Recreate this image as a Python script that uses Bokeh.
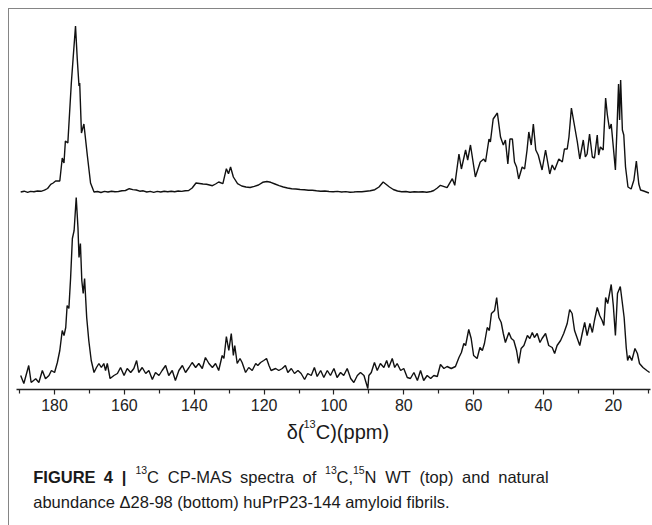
from bokeh.plotting import figure
from bokeh.models import Range1d, FixedTicker, Label
from bokeh.layouts import column
from bokeh.embed import file_html
from bokeh.resources import INLINE

# ---------------- data ----------------
# chemical shift axis ticks (ppm)
TICKS = [180, 160, 140, 120, 100, 80, 60, 40, 20]
MINOR_TICKS = [190, 170, 150, 130, 110, 90, 70, 50, 30, 10]

# top spectrum: 13C,15N WT  (ppm, intensity a.u.)
top_ppm = [189.7, 188.7, 187.7, 186.9, 185.9, 184.9, 183.9, 182.9, 182.0, 181.1,
           180.4, 179.7, 178.5, 177.8, 177.3, 176.9, 176.2, 175.2, 174.7, 174.0,
           173.5, 173.0, 172.8, 172.3, 171.6, 170.6, 169.7, 168.7, 167.7, 166.7,
           165.7, 164.7, 163.7, 162.7, 161.7, 160.7, 159.7, 158.6, 157.6, 156.6,
           155.6, 154.6, 153.6, 152.6, 151.6, 150.6, 149.6, 148.6, 147.6, 146.6,
           145.6, 144.6, 143.6, 142.6, 141.6, 140.6, 139.5, 138.5, 137.5, 136.5,
           135.9, 134.8, 133.9, 133.0, 131.8, 130.8, 130.2, 129.6, 128.8, 127.6,
           126.4, 125.2, 124.0, 122.8, 121.6, 120.4, 119.2, 118.1, 116.9, 115.7,
           114.5, 113.3, 112.1, 110.9, 109.7, 108.5, 107.3, 106.2, 105.0, 103.8,
           102.6, 101.4, 100.2, 99.0, 97.8, 96.6, 95.4, 94.3, 93.2, 92.0,
           90.8, 89.6, 88.3, 87.1, 85.9, 84.1, 83.0, 81.8, 80.6, 79.4,
           78.2, 77.0, 75.8, 74.6, 73.4, 72.2, 71.4, 70.4, 69.5, 67.6,
           66.1, 65.4, 64.2, 63.5, 62.3, 61.7, 60.9, 59.5, 58.1, 57.1,
           56.6, 55.6, 55.2, 54.4, 53.2, 52.3, 51.5, 50.9, 50.2, 49.6,
           48.9, 48.3, 47.7, 47.1, 46.1, 45.4, 44.7, 44.2, 43.5, 42.9,
           42.2, 41.5, 40.4, 39.4, 38.2, 37.5, 36.8, 35.6, 34.6, 34.0,
           33.2, 32.7, 32.0, 31.3, 30.3, 29.6, 28.6, 28.0, 27.5, 26.8,
           26.0, 25.4, 24.6, 24.2, 23.7, 22.9, 22.2, 21.7, 21.1, 20.6,
           20.0, 19.4, 18.9, 18.5, 18.2, 17.9, 17.4, 17.0, 16.5, 15.8,
           14.9, 14.1, 13.4, 12.7, 12.2, 11.3, 9.8]
top_int = [0, 0.8, -0.3, 0.6, 0.2, 1.0, 0.7, 1.8, 3.5, 7.7,
           9, 11, 11, 34, 29, 51, 49, 109, 133, 166,
           133, 106, 109, 59, 68, 36, 9, 0, 0.5, -0.5,
           0.6, 0, 0.8, 0.2, 0.5, 1.2, 1.5, 3.3, 2.4, 2.0,
           0.8, 1.2, 0, 0.6, -0.4, 0.6, 0, 0.8, 0.3, 0.8,
           0.2, 1.0, 0.6, 1.2, 1.5, 4, 9, 8.5, 8, 7.8,
           7.3, 6.3, 8, 10, 8.3, 23.3, 18.3, 25, 15, 8.3,
           6, 5, 4.5, 5.7, 7, 9.7, 10.5, 9.7, 8, 6.3,
           5, 4, 3.3, 3, 2.5, 2.2, 1.8, 1.7, 1.2, 0.8,
           1.0, 0.5, 0.2, 0.6, 0, 0.4, -0.2, 0, 0.4, 0.3,
           0.8, 1.2, 2.3, 5, 10, 5, 2.5, 1, 0.3, 0.5,
           -0.3, 0.2, 0, 0.3, -0.2, 0.5, 1.5, 4, 6.7, 4.3,
           13.3, 6.7, 38, 23, 42, 32, 47, 15, 30, 33,
           30, 53, 50, 73, 79, 55, 47, 52, 28, 53,
           53, 30, 25, 13, 25, 23, 42, 60, 47, 68,
           42, 37, 22, 42, 18, 27, 22, 33, 30, 43,
           43, 55, 84, 70, 50, 33, 52, 35, 38, 58,
           35, 34, 57, 37, 45, 42, 94, 77, 63, 68,
           45, 22, 68, 108, 72, 112, 62, 57, 25, 5,
           3, 12, 31, 8, 2, 1, -1]

# bottom spectrum: natural abundance delta28-98  (ppm, intensity a.u.)
bot_ppm = [189.7, 188.8, 187.4, 186.7, 185.4, 184.5, 183.5, 182.6, 181.6, 180.9,
           180.0, 179.2, 178.5, 177.8, 177.3, 176.8, 176.4, 175.9, 175.4, 174.9,
           174.4, 173.8, 173.3, 173.0, 172.6, 172.2, 171.8, 171.4, 170.8, 170.2,
           169.5, 168.7, 168.0, 167.3, 166.6, 165.9, 165.4, 164.9, 164.1, 163.0,
           162.0, 161.1, 160.1, 159.2, 158.2, 157.3, 156.5, 155.9, 154.9, 153.9,
           153.0, 152.0, 151.1, 150.1, 149.2, 148.2, 147.3, 146.3, 145.4, 144.4,
           143.4, 142.5, 141.5, 140.6, 139.6, 138.7, 137.7, 136.8, 135.8, 134.8,
           133.9, 133.0, 132.0, 131.5, 130.8, 130.1, 129.4, 128.8, 128.4, 127.7,
           126.9, 126.3, 125.3, 124.4, 123.4, 122.4, 121.8, 121.0, 120.1, 119.3,
           118.6, 118.0, 116.7, 115.8, 114.8, 113.9, 113.2, 112.2, 111.3, 110.3,
           109.4, 108.4, 107.5, 106.5, 105.6, 104.8, 103.8, 102.9, 101.9, 101.0,
           100.0, 99.1, 98.1, 97.2, 96.2, 95.2, 94.3, 93.3, 92.4, 91.4,
           90.3, 90.0, 89.3, 88.4, 87.6, 86.7, 85.7, 84.9, 84.3, 83.3,
           82.6, 81.9, 80.9, 80.0, 79.0, 78.1, 77.1, 76.1, 75.2, 74.3,
           73.3, 72.3, 71.4, 70.4, 69.5, 68.5, 67.6, 66.4, 65.2, 64.2,
           63.5, 62.8, 62.3, 61.4, 60.7, 60.0, 59.0, 58.2, 57.5, 56.9,
           56.1, 55.5, 54.9, 54.0, 53.4, 52.8, 52.1, 51.5, 50.9, 49.9,
           49.2, 48.5, 47.7, 47.1, 46.4, 45.6, 44.6, 43.9, 43.2, 42.6,
           41.8, 41.0, 40.4, 39.4, 38.5, 37.5, 36.8, 36.1, 35.1, 34.2,
           33.2, 32.5, 31.8, 31.1, 30.3, 29.6, 28.9, 28.2, 27.5, 26.7,
           26.0, 25.4, 24.6, 23.9, 23.2, 22.7, 22.2, 21.6, 20.6, 20.0,
           19.4, 18.8, 18.0, 17.5, 16.9, 16.3, 15.9, 15.4, 14.7, 13.8,
           13.1, 12.5, 11.5, 10.4, 9.6]
bot_int = [5, -3, 15, -2, 1.7, -2, 10, 1.7, 5, 10,
           8, 18, 30, 50, 45, 53, 75, 72, 103, 142,
           150, 183, 153, 123, 137, 100, 87, 102, 63, 40,
           20, 8, 13, 17, 13, 17, 10, 17, 2, 5,
           7, 13, 5, 12, 8, 12, 20, 8, 13, 7,
           10, 1, 8, 5, 10, 15, 5, 10, 0, 10,
           15, 8, 13, 18, 13, 17, 12, 23, 17, 13,
           17, 10, 25, 22, 44, 30, 47, 25, 35, 17,
           22, 18, 8, 13, 10, 17, 15, 18, 20, 22,
           15, 10, 12, 10, 12, 15, 8, 12, 7, 10,
           7, 1, 7, 5, 13, 4, 10, 3, 10, 5,
           12, 3, 8, 5, 12, 2, -2, 5, 8, 5,
           -8, 5, 8, 18, 10, 17, 13, 20, 13, 22,
           13, 17, 10, 12, 3, 2, 8, 0, 10, 0,
           5, 2, 5, 4, 16, 12, 14, 12, 14, 23,
           28, 37, 35, 51, 42, 25, 22, 33, 30, 37,
           53, 50, 67, 70, 83, 63, 58, 47, 38, 48,
           42, 40, 30, 17, 32, 35, 45, 42, 48, 43,
           47, 38, 42, 47, 35, 33, 27, 35, 40, 47,
           57, 71, 67, 50, 42, 35, 47, 58, 45, 57,
           48, 60, 73, 65, 60, 55, 83, 77, 96, 75,
           45, 87, 94, 80, 63, 33, 20, 25, 20, 32,
           27, 17, 13, 10, 8]

X_LABEL = ["\u03b4(", "13", "C)(ppm)"]
# caption line 1 is justified: (text, is_superscript, is_bold)
CAPTION_1 = [("FIGURE", False, True), ("4", False, True), ("|", False, True),
             ("13", True, False), ("C", False, False), ("CP-MAS", False, False),
             ("spectra", False, False), ("of", False, False),
             ("13", True, False), ("C,", False, False), ("15", True, False), ("N", False, False),
             ("WT", False, False), ("(top)", False, False), ("and", False, False),
             ("natural", False, False)]
CAPTION_2 = "abundance \u039428-98 (bottom) huPrP23-144 amyloid fibrils."

# ---------------- layout ----------------
TOP_OFFSET = 188.5      # vertical stacking offset of the upper trace
FONT = "Liberation Sans"
INK = "#1a1a1a"

p = figure(width=643, height=406,
           x_range=Range1d(190.9, 9.35), y_range=Range1d(-9, 365),
           output_backend="svg", toolbar_location=None, y_axis_location=None,
           min_border_left=7, min_border_right=2, min_border_top=6, min_border_bottom=26)
p.grid.visible = False
p.outline_line_color = None

ax = p.xaxis[0]
ax.ticker = FixedTicker(ticks=TICKS, minor_ticks=MINOR_TICKS)
ax.axis_line_color = "#222222"
ax.axis_line_width = 1.5
ax.major_tick_line_color = "#222222"
ax.minor_tick_line_color = "#222222"
ax.major_tick_line_width = 1.2
ax.minor_tick_line_width = 1.2
ax.major_tick_in = 0
ax.major_tick_out = 5
ax.minor_tick_in = 0
ax.minor_tick_out = 4
ax.major_label_standoff = 4
ax.major_label_text_font = FONT
ax.major_label_text_font_size = "16px"
ax.major_label_text_color = "#222222"

top_y = [v + TOP_OFFSET for v in top_int]
p.line(top_ppm, top_y, line_color="#111111", line_width=1.4)
p.line(bot_ppm, bot_int, line_color="#111111", line_width=1.4)

# text panel below the plot: its data coordinates are page pixels
t = figure(width=643, height=110, x_range=Range1d(9, 652), y_range=Range1d(525, 415),
           output_backend="svg", toolbar_location=None,
           x_axis_location=None, y_axis_location=None,
           min_border_left=0, min_border_right=0, min_border_top=0, min_border_bottom=0)
t.grid.visible = False
t.outline_line_color = None


def add_label(text, px, py, size, bold=False):
    t.add_layout(Label(x=px, y=py, text=text,
                       text_font=FONT, text_font_size=f"{size}px",
                       text_font_style="bold" if bold else "normal",
                       text_color=INK, text_align="left", text_baseline="alphabetic"))


# approximate advance widths (Arial/Liberation metrics, per 1000 em)
ADV = {"F": 611, "I": 278, "G": 778, "U": 722, "R": 722, "E": 667, "4": 556, "|": 280,
       "1": 556, "3": 556, "5": 556, "C": 722, "P": 667, "-": 333, "M": 833, "A": 667,
       "S": 667, "s": 500, "p": 556, "e": 556, "c": 500, "t": 278, "r": 333, "a": 556,
       "o": 556, "f": 278, ",": 278, "N": 722, "W": 944, "T": 611, "(": 333, ")": 333,
       "n": 556, "d": 556, "u": 556, "l": 222}


def width(s, size):
    return sum(ADV.get(ch, 556) for ch in s) * size / 1000.0


BASE_SIZE = 16.5
SUP_SIZE = 10.5
Y_SHIFT = -6            # Label baseline correction measured on render

# x-axis title  δ(13C)(ppm)
add_label(X_LABEL[0], 283, 437 + Y_SHIFT, 20)
add_label(X_LABEL[1], 300, 429 + Y_SHIFT, 11)
add_label(X_LABEL[2], 312.5, 437 + Y_SHIFT, 20)

# caption line 1 (justified between x=26 and x=548)
word_breaks = {0, 1, 2, 3, 5, 6, 7, 8, 12, 13, 14, 15}
x0, x1 = 26.0, 548.0
widths = [width(s, SUP_SIZE if sup else BASE_SIZE) for s, sup, _ in CAPTION_1]
gap = (x1 - x0 - sum(widths)) / (len(word_breaks) - 1)
x = x0
for i, (s, sup, bold) in enumerate(CAPTION_1):
    if i in word_breaks and i > 0:
        x += gap
    add_label(s, x, (475 if sup else 482) + Y_SHIFT, SUP_SIZE if sup else BASE_SIZE, bold=bold)
    x += widths[i]

# caption line 2
add_label(CAPTION_2, 26, 507 + Y_SHIFT, BASE_SIZE)

layout = column(p, t, spacing=0)
layout.styles = {"margin-left": "8px", "margin-top": "8px",
                 "border-top": "1px solid #858585", "border-left": "1px solid #858585"}

open("out.html", "w").write(file_html(layout, INLINE))
